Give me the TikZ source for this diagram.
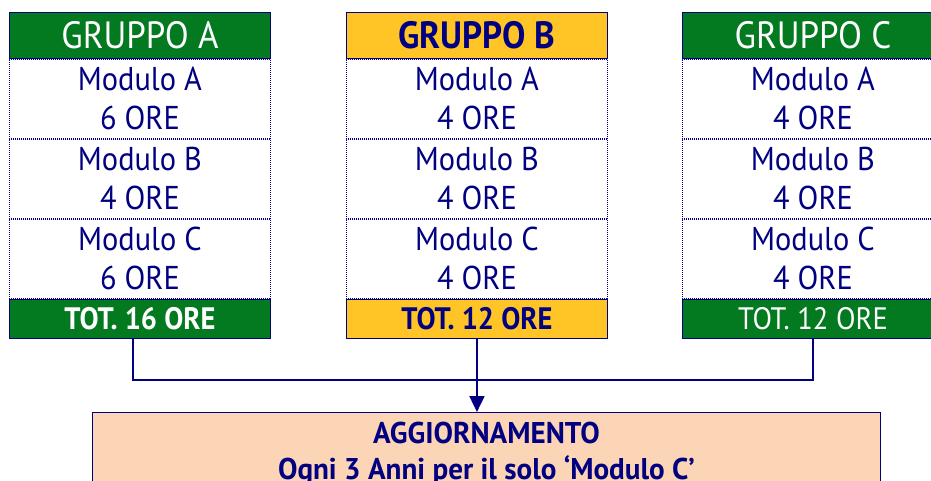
\documentclass[tikz,border=0pt]{standalone}
\usepackage{fontspec}
\setmainfont[FakeStretch=0.92]{PT Sans}
\newfontfamily\updfont[FakeStretch=0.97]{PT Sans}
\usetikzlibrary{positioning,arrows.meta}
\definecolor{navy}{HTML}{000080}
\definecolor{grp}{HTML}{037A1F}
\definecolor{gold}{HTML}{FFC425}
\definecolor{peach}{HTML}{FBD5B5}
\tikzset{
  head/.style={draw=navy, line width=0.9pt, minimum width=261, minimum height=46, inner sep=0pt, font=\fontsize{38}{40}\selectfont},
  mod/.style={draw=navy, line width=0.9pt, dash pattern=on 1pt off 1pt, minimum width=261, minimum height=79, inner sep=0pt, align=center, font=\fontsize{33}{39}\selectfont},
  tot/.style={draw=navy, line width=0.9pt, minimum width=261, minimum height=39, inner sep=0pt, font=\fontsize{31}{33}\selectfont},
  link/.style={draw=navy, line width=2pt},
  every node/.style={text=navy}
}
\begin{document}
\begin{tikzpicture}[x=1pt, y=-1pt]
  \useasboundingbox (0,0) rectangle (931,481);

  % gruppo A
  \node[head, fill=grp, text=white, anchor=north west] (hdA) at (9,12) {GRUPPO A};
  \node[mod, below=0pt of hdA] (maA) {Modulo A\\6 ORE};
  \node[mod, below=0pt of maA] (mbA) {Modulo B\\4 ORE};
  \node[mod, below=0pt of mbA] (mcA) {Modulo C\\6 ORE};
  \node[tot, fill=grp, text=white, below=0pt of mcA] (totA) {\bfseries TOT. 16 ORE};

  % gruppo B
  \node[head, fill=gold, anchor=north west] (hdB) at (346,12) {\bfseries GRUPPO B};
  \node[mod, below=0pt of hdB] (maB) {Modulo A\\4 ORE};
  \node[mod, below=0pt of maB] (mbB) {Modulo B\\4 ORE};
  \node[mod, below=0pt of mbB] (mcB) {Modulo C\\4 ORE};
  \node[tot, fill=gold, below=0pt of mcB] (totB) {\bfseries TOT. 12 ORE};

  % gruppo C
  \node[head, fill=grp, text=white, anchor=north west] (hdC) at (682,12) {GRUPPO C};
  \node[mod, below=0pt of hdC] (maC) {Modulo A\\4 ORE};
  \node[mod, below=0pt of maC] (mbC) {Modulo B\\4 ORE};
  \node[mod, below=0pt of mbC] (mcC) {Modulo C\\4 ORE};
  \node[tot, fill=grp, text=white, below=0pt of mcC] (totC) {TOT. 12 ORE};

  % aggiornamento
  \node[draw=navy, line width=0.9pt, fill=peach, anchor=north west, minimum width=788, inner xsep=0pt, inner ysep=10pt, align=center, font=\updfont\bfseries\fontsize{30}{36}\selectfont] (upd) at (92,412)
    {AGGIORNAMENTO\\Ogni 3 Anni per il solo ‘Modulo C’};

  \draw[link] ([xshift=-7pt]totA.south) -- ++(0,41) -| (totC.south);
  \draw[link, -{Triangle[width=15pt,length=16pt]}] (totB.south) -- (totB.south |- upd.north);
\end{tikzpicture}
\end{document}
